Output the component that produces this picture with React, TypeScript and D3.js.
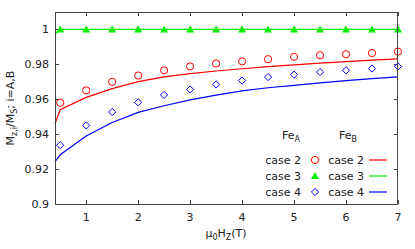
import React, { useRef, useEffect } from 'react';
import * as d3 from 'd3';

// marker positions (field values) and values
const fieldPts = [0.5, 1, 1.5, 2, 2.5, 3, 3.5, 4, 4.5, 5, 5.5, 6, 6.5, 7];
const case2Pts = [0.958, 0.9651, 0.97, 0.9736, 0.9766, 0.9788, 0.9805, 0.9817, 0.983, 0.9843, 0.9852, 0.9858, 0.9865, 0.9873];
const case3Pts = [1, 1, 1, 1, 1, 1, 1, 1, 1, 1, 1, 1, 1, 1];
const case4Pts = [0.9337, 0.945, 0.9527, 0.9582, 0.9625, 0.9656, 0.9685, 0.9707, 0.9727, 0.9741, 0.9756, 0.9766, 0.9776, 0.9788];

// curves
const fieldLine = [0.4, 0.5, 1, 1.5, 2, 2.5, 3, 3.5, 4, 4.5, 5, 5.5, 6, 6.5, 7];
const case2Line = [0.946, 0.954, 0.9611, 0.9661, 0.9701, 0.9728, 0.9747, 0.9762, 0.9775, 0.9787, 0.9797, 0.9807, 0.9816, 0.9824, 0.9832];
const case3Line = [0.9975, 1, 1, 1, 1, 1, 1, 1, 1, 1, 1, 1, 1, 1, 1];
const case4Line = [0.9243, 0.9282, 0.939, 0.9467, 0.9525, 0.9563, 0.9597, 0.9624, 0.9648, 0.9666, 0.968, 0.9694, 0.9707, 0.9718, 0.9728];

const xTicks = [1, 2, 3, 4, 5, 6, 7];
const yTicks = [0.9, 0.92, 0.94, 0.96, 0.98, 1];
const yTickLabels = ['0.9', '0.92', '0.94', '0.96', '0.98', '1'];
const legendLabels = ['case 2', 'case 3', 'case 4'];

const RED = '#ff0000';
const GREEN = '#00ee00';
const BLUE = '#0000ff';
const FONT = '"DejaVu Sans", sans-serif';

const App = () => {
  const ref = useRef<SVGSVGElement>(null);
  const width = 415;
  const height = 249;

  useEffect(() => {
    const svg = d3.select(ref.current);
    svg.selectAll('*').remove();

    const m = { left: 55, right: 17, top: 12, bottom: 45 };
    const x = d3.scaleLinear().domain([0.4, 7]).range([m.left, width - m.right]);
    const y = d3.scaleLinear().domain([0.9, 1.01]).range([height - m.bottom, m.top]);
    const x0 = m.left, x1 = width - m.right, y0 = height - m.bottom, y1 = m.top;

    const axisCol = '#444';
    const txtCol = '#222';
    const tl = 4;

    // ticks (inside, on all sides)
    const g = svg.append('g').attr('stroke', axisCol).attr('stroke-width', 1);
    xTicks.forEach((t) => {
      const px = Math.round(x(t)) + 0.5;
      g.append('line').attr('x1', px).attr('x2', px).attr('y1', y0).attr('y2', y0 - tl);
      g.append('line').attr('x1', px).attr('x2', px).attr('y1', y1).attr('y2', y1 + tl);
    });
    yTicks.forEach((t) => {
      const py = Math.round(y(t)) + 0.5;
      g.append('line').attr('x1', x0).attr('x2', x0 + tl).attr('y1', py).attr('y2', py);
      g.append('line').attr('x1', x1).attr('x2', x1 - tl).attr('y1', py).attr('y2', py);
    });

    // tick labels
    xTicks.forEach((t) => {
      svg.append('text').attr('x', x(t)).attr('y', y0 + 17).attr('text-anchor', 'middle')
        .attr('font-family', FONT).attr('font-size', 11).attr('fill', txtCol).text(String(t));
    });
    yTicks.forEach((t, i) => {
      svg.append('text').attr('x', x0 - 6).attr('y', y(t) + 4).attr('text-anchor', 'end')
        .attr('font-family', FONT).attr('font-size', 11).attr('fill', txtCol).text(yTickLabels[i]);
    });

    // lines
    const lineGen = d3.line<number>()
      .x((_, i) => x(fieldLine[i]))
      .y((d) => y(d));
    [[case2Line, RED], [case3Line, GREEN], [case4Line, BLUE]].forEach(([vals, col]) => {
      svg.append('path').datum(vals as number[]).attr('d', lineGen)
        .attr('fill', 'none').attr('stroke', col as string).attr('stroke-width', 1.2);
    });

    // markers
    const drawCircle = (sel: any, cx: number, cy: number) =>
      sel.append('circle').attr('cx', cx).attr('cy', cy).attr('r', 3.6)
        .attr('fill', 'none').attr('stroke', RED).attr('stroke-width', 1);
    const drawTri = (sel: any, cx: number, cy: number) =>
      sel.append('path').attr('d', `M${cx},${cy - 4}L${cx + 4},${cy + 3}L${cx - 4},${cy + 3}Z`)
        .attr('fill', GREEN);
    const drawDiamond = (sel: any, cx: number, cy: number) =>
      sel.append('path').attr('d', `M${cx},${cy - 3.6}L${cx + 3.6},${cy}L${cx},${cy + 3.6}L${cx - 3.6},${cy}Z`)
        .attr('fill', 'none').attr('stroke', BLUE).attr('stroke-width', 1);

    fieldPts.forEach((f, i) => {
      drawCircle(svg, x(f), y(case2Pts[i]));
      drawTri(svg, x(f), y(case3Pts[i]));
      drawDiamond(svg, x(f), y(case4Pts[i]));
    });

    // border
    svg.append('rect').attr('x', x0 + 0.5).attr('y', y1 + 0.5).attr('width', x1 - x0 - 1).attr('height', y0 - y1)
      .attr('fill', 'none').attr('stroke', axisCol).attr('stroke-width', 1);

    // legend
    const lg = svg.append('g').attr('font-family', FONT).attr('font-size', 11).attr('fill', txtCol);
    const hdr = (cx: number, name: string) => {
      const t = lg.append('text').attr('x', cx).attr('y', 139).attr('text-anchor', 'middle');
      t.append('tspan').text('Fe');
      t.append('tspan').attr('font-size', 8).attr('dy', 3).text(name);
    };
    hdr(291, 'A');
    hdr(348, 'B');
    const markers = [drawCircle, drawTri, drawDiamond];
    const cols = [RED, GREEN, BLUE];
    legendLabels.forEach((lab, i) => {
      const ry = 160 + i * 16;
      lg.append('text').attr('x', 301).attr('y', ry + 4).attr('text-anchor', 'end').text(lab);
      markers[i](svg, 315, ry);
      lg.append('text').attr('x', 364).attr('y', ry + 4).attr('text-anchor', 'end').text(lab);
      svg.append('line').attr('x1', 369).attr('x2', 387).attr('y1', ry).attr('y2', ry)
        .attr('stroke', cols[i]).attr('stroke-width', 1.2);
    });

    // axis labels
    const xl = svg.append('text').attr('x', 226).attr('y', 237).attr('text-anchor', 'middle')
      .attr('font-family', FONT).attr('font-size', 11).attr('fill', txtCol);
    xl.append('tspan').text('μ');
    xl.append('tspan').attr('font-size', 8).attr('dy', 3).text('0');
    xl.append('tspan').attr('dy', -3).text('H');
    xl.append('tspan').attr('font-size', 8).attr('dy', 3).text('Z');
    xl.append('tspan').attr('dy', -3).text('(T)');

    const yl = svg.append('text').attr('transform', `translate(14,${(y0 + y1) / 2}) rotate(-90)`)
      .attr('text-anchor', 'middle').attr('font-family', FONT).attr('font-size', 11).attr('fill', txtCol);
    yl.append('tspan').text('M');
    yl.append('tspan').attr('font-size', 8).attr('dy', 3).text('z,i');
    yl.append('tspan').attr('dy', -3).text('/M');
    yl.append('tspan').attr('font-size', 8).attr('dy', 3).text('S');
    yl.append('tspan').attr('dy', -3).text(';  i=A,B');
  }, []);

  return (
    <svg ref={ref} width={width} height={height}
      style={{ position: 'absolute', left: 0, top: 0, background: '#fff' }} />
  );
};

export default App;
